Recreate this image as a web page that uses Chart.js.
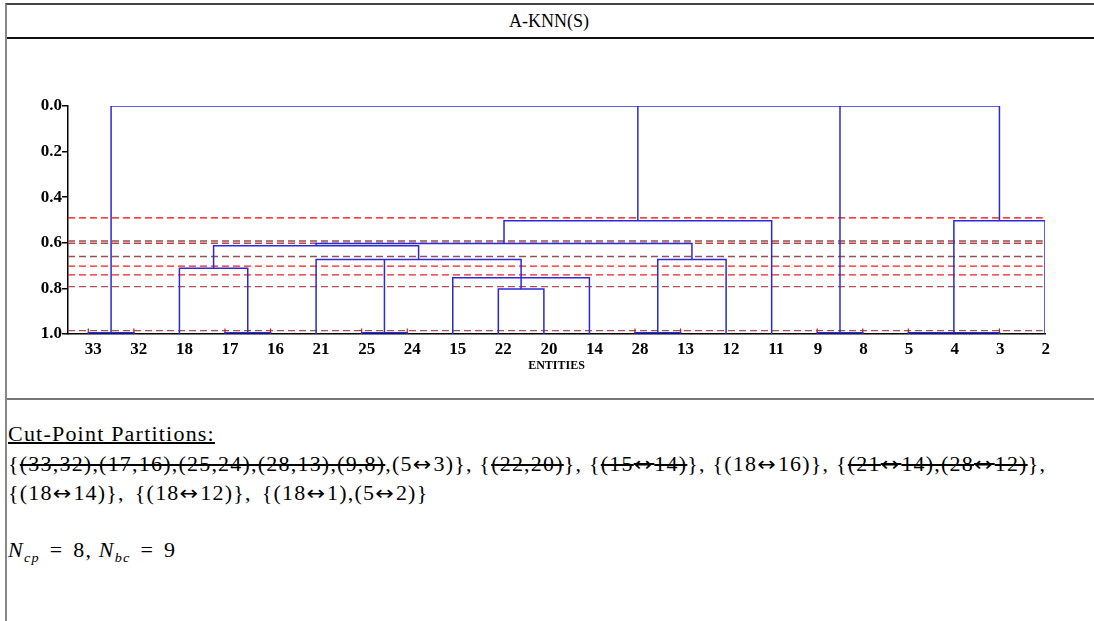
<!DOCTYPE html>
<html>
<head>
<meta charset="utf-8">
<script src="https://cdn.jsdelivr.net/npm/chart.js@4.4.1/dist/chart.umd.min.js"></script>
<style>
  html, body { margin: 0; padding: 0; background: #fff; }
  body { width: 1094px; height: 621px; position: relative; overflow: hidden;
         font-family: "Liberation Serif", "DejaVu Serif", serif; color: #000; }
  #frame { position: absolute; left: 5px; top: 3px; width: 1200px; height: 640px;
           border-top: 2px solid #444; border-left: 2px solid #888; }
  #title { position: absolute; left: 0; top: 0; width: 1200px; height: 32px; line-height: 32px;
           font-size: 18px; border-bottom: 2px solid #111; }
  #title span { position: absolute; left: 0; width: 1084px; text-align: center; }
  #plotCell { position: absolute; left: 0; top: 34px; width: 1200px; height: 359px;
              border-bottom: 2px solid #777; }
  #notes { position: absolute; left: 8px; top: 423px; font-size: 20px; letter-spacing: 1.1px;
           transform: scaleX(1.1); transform-origin: 0 0; }
  #notes .ln { height: 29.5px; white-space: nowrap; }
  #notes .gap { height: 27px; }
  #notes .ar { font-family: "DejaVu Sans", sans-serif; font-size: 20px; letter-spacing: 2px; line-height: 1; }
  #notes .wide { word-spacing: 3px; }
  #notes .eq { margin: 0 9px; }
  #notes .nm { margin-left: 6px; }
  #chartBox { position: absolute; left: 0; top: 0; width: 1094px; height: 398px; }
</style>
</head>
<body>
<div id="frame">
  <div id="title"><span>A-KNN(S)</span></div>
  <div id="plotCell"></div>
</div>
<div id="notes">
  <div class="ln"><u>Cut-Point Partitions:</u></div>
  <div class="ln">{<s>(33,32),(17,16),(25,24),(28,13),(9,8)</s>,(5<span class="ar">↔</span>3)}, {<s>(22,20)</s>}, {<s>(15<span class="ar">↔</span>14)</s>}, {(18<span class="ar">↔</span>16)}, {<s>(21<span class="ar">↔</span>14),(28<span class="ar">↔</span>12)</s>},</div>
  <div class="ln wide">{(18<span class="ar">↔</span>14)}, {(18<span class="ar">↔</span>12)}, {(18<span class="ar">↔</span>1),(5<span class="ar">↔</span>2)}</div>
  <div class="gap"></div>
  <div class="ln"><i>N<sub style="font-size:13px">cp</sub></i><span class="eq">=</span>8,<i class="nm">N<sub style="font-size:13px">bc</sub></i><span class="eq">=</span>9</div>
</div>
<div id="chartBox"><canvas id="dendro"></canvas></div>

<script>
// leaf order along the bottom axis
const leafLabels = ['33', '32', '18', '17', '16', '21', '25', '24', '15', '22', '20',
                    '14', '28', '13', '12', '11', '9', '8', '5', '4', '3', '2'];

// one entry per link: the height it joins at, where its children sit, and where they come up from
const joinHeight = [0.995, 0.995, 0.995, 0.995, 0.995, 0.995, 0.712, 0.803, 0.753,
                    0.673, 0.673, 0.613, 0.603, 0.503, 0.503, 0.0];
const childPos = [[0, 1], [3, 4], [6, 7], [12, 13], [16, 17], [18, 20], [2, 3.5], [9, 10], [8, 11],
                  [5, 6.5, 9.5], [12.5, 14], [2.75, 7.25], [5, 13.25], [9.125, 15], [19, 21],
                  [0.5, 12.0625, 16.5, 20]];
const childFrom = [[1, 1], [1, 1], [1, 1], [1, 1], [1, 1], [1, 1], [1, 0.995], [1, 1], [1, 1],
                   [1, 0.995, 0.803], [0.995, 1], [0.712, 0.673], [0.613, 0.673], [0.603, 1], [0.995, 1],
                   [0.995, 0.503, 0.995, 0.503]];

// small red marks at the ends of the pairs joined at the bottom
const pairEnds = [0, 1, 3, 4, 6, 7, 12, 13, 16, 17, 18, 20];

// cut-point levels
const cutLevels = [0.491, 0.592, 0.602, 0.66, 0.702, 0.741, 0.792, 0.985];
const cutColors = ['#ff0000', '#984c4c', '#b84444', '#925252', '#ff1a1a', '#f02020', '#b05050', '#a05555'];

const yTicks = [0, 0.2, 0.4, 0.6, 0.8, 1.0];

const X_MIN = -0.446;
const X_MAX = 21;
const BLUE = '#2a2ad6';

const datasets = [];

joinHeight.forEach((h, i) => {
  const xs = childPos[i];
  const pts = [];
  // left-most child up, across, right-most child down
  pts.push({ x: xs[0], y: childFrom[i][0] });
  pts.push({ x: xs[0], y: h });
  pts.push({ x: xs[xs.length - 1], y: h });
  pts.push({ x: xs[xs.length - 1], y: childFrom[i][xs.length - 1] });
  datasets.push({ data: pts, borderColor: BLUE, borderWidth: 1.5, order: 1 });
  // any children in the middle
  for (let k = 1; k < xs.length - 1; k++) {
    datasets.push({
      data: [{ x: xs[k], y: childFrom[i][k] }, { x: xs[k], y: h }],
      borderColor: BLUE, borderWidth: 1.5, order: 1
    });
  }
});

pairEnds.forEach(p => {
  datasets.push({
    data: [{ x: p, y: 0.976 }, { x: p, y: 0.997 }],
    borderColor: '#e01010', borderWidth: 1.2, order: 2
  });
});

cutLevels.forEach((v, i) => {
  datasets.push({
    data: [{ x: X_MIN, y: v }, { x: X_MAX - 0.05, y: v }],
    borderColor: cutColors[i], borderWidth: 1.3, borderDash: [7, 4], order: 3
  });
});

const tickFont = { family: '"Liberation Serif", serif', size: 17, weight: 'bold' };

new Chart(document.getElementById('dendro'), {
  type: 'scatter',
  data: { datasets: datasets.map(d => Object.assign({ showLine: true, pointRadius: 0, fill: false, tension: 0 }, d)) },
  options: {
    responsive: true,
    maintainAspectRatio: false,
    animation: false,
    events: [],
    layout: { padding: { top: 106, right: 49, left: 0, bottom: 0 } },
    plugins: { legend: { display: false }, tooltip: { enabled: false } },
    scales: {
      x: {
        type: 'linear',
        min: X_MIN,
        max: X_MAX,
        afterFit: s => { s.height = 64; },
        afterBuildTicks: s => { s.ticks = leafLabels.map((_, i) => ({ value: i })); },
        grid: { display: false, drawTicks: false },
        border: { display: true, color: '#000', width: 1.5 },
        ticks: {
          autoSkip: false, maxRotation: 0, padding: 5, align: 'start', labelOffset: -3.5,
          color: '#000', font: tickFont,
          callback: v => leafLabels[v]
        },
        title: {
          display: true, text: 'ENTITIES', color: '#000',
          font: { family: '"Liberation Serif", serif', size: 12, weight: 'bold' },
          padding: { top: 0, bottom: 25 }
        }
      },
      y: {
        type: 'linear',
        min: 0,
        max: 1,
        reverse: true,
        afterFit: s => { s.width = 68; },
        afterBuildTicks: s => { s.ticks = yTicks.map(v => ({ value: v })); },
        grid: { display: true, drawOnChartArea: false, drawTicks: true, tickLength: 6, color: '#000', lineWidth: 1.5 },
        border: { display: true, color: '#000', width: 1.5 },
        ticks: { padding: 0, color: '#000', font: tickFont, callback: v => v.toFixed(1) }
      }
    }
  }
});
</script>
</body>
</html>
